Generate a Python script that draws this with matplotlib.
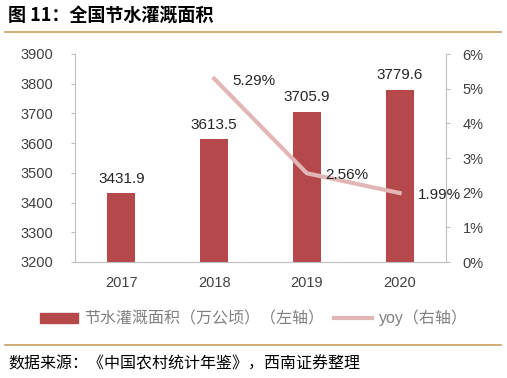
import matplotlib
matplotlib.use("Agg")
import matplotlib.pyplot as plt
from matplotlib.lines import Line2D
from matplotlib.patches import Patch

plt.rcParams['font.family'] = ['Liberation Sans', 'Noto Sans CJK SC', 'DejaVu Sans']

years = ['2017', '2018', '2019', '2020']
area = [3431.9, 3613.5, 3705.9, 3779.6]
yoy_years = ['2018', '2019', '2020']
yoy = [5.29, 2.56, 1.99]
left_ticks = [3200, 3300, 3400, 3500, 3600, 3700, 3800, 3900]
right_ticks = [0, 1, 2, 3, 4, 5, 6]

bar_color = '#B5484A'
line_color = '#E2B6B6'
text_color = '#404040'
axis_color = '#BFBFBF'
rule_color = '#C8A060'

W, H = 507, 378
fig = plt.figure(figsize=(W / 100, H / 100), dpi=100)

ax = fig.add_axes([75 / W, 1 - 262 / H, (446 - 75) / W, (262 - 54) / H])
x = list(range(len(years)))
ax.bar(x, [v - 3200 for v in area], bottom=3200, width=0.3, color=bar_color, zorder=2)
ax.set_ylim(3200, 3900)
ax.set_xlim(-0.5, 3.5)
ax.set_yticks(left_ticks)
ax.set_yticklabels([str(t) for t in left_ticks])
ax.set_xticks(x)
ax.set_xticklabels(years)
for i, v in enumerate(area):
    ax.text(i, v + 25, f'{v:.1f}', ha='center', va='bottom', fontsize=11, color='#262626')

for s in ['top', 'right']:
    ax.spines[s].set_visible(False)
for s in ['left', 'bottom']:
    ax.spines[s].set_color(axis_color)
ax.tick_params(axis='y', colors=axis_color, labelcolor=text_color, labelsize=10.5, length=3, pad=13)
ax.tick_params(axis='x', length=0, labelcolor=text_color, labelsize=10.5, pad=10)

ax2 = ax.twinx()
xi = [years.index(y) for y in yoy_years]
ax2.plot(xi, yoy, color=line_color, linewidth=3, zorder=3)
ax2.set_ylim(0, 6)
ax2.set_yticks(right_ticks)
ax2.set_yticklabels([f'{t}%' for t in right_ticks])
for s in ['top', 'left', 'bottom']:
    ax2.spines[s].set_visible(False)
ax2.spines['right'].set_color(axis_color)
ax2.tick_params(axis='y', colors=axis_color, labelcolor=text_color, labelsize=10.5, length=3, pad=9)
for xx, v in zip(xi, yoy):
    ax2.text(xx + 0.2, v - 0.06, f'{v:.2f}%', ha='left', va='center',
             fontsize=11, color='#262626')

# title and rules
fig.text(8 / W, 1 - 16 / H, '图 11：全国节水灌溉面积', fontsize=13, fontweight='bold',
         family=['Noto Sans CJK SC', 'DejaVu Sans'], va='center', ha='left', color='#000000')
fig.add_artist(Line2D([5 / W, 501 / W], [1 - 32 / H, 1 - 32 / H], color=rule_color, linewidth=1.2))
fig.add_artist(Line2D([5 / W, 501 / W], [1 - 345 / H, 1 - 345 / H], color=rule_color, linewidth=1.2))

handles = [Patch(color=bar_color), Line2D([], [], color=line_color, linewidth=3)]
labels = ['节水灌溉面积（万公顷）（左轴）', 'yoy（右轴）']
leg = fig.legend(handles, labels, loc='center', bbox_to_anchor=(0.5, 1 - 318 / H), ncol=2,
                 frameon=False, handlelength=2.4, handleheight=0.6,
                 columnspacing=0.6, handletextpad=0.4,
                 prop={'family': ['Liberation Sans', 'Noto Sans CJK SC'], 'size': 11.5})
for t in leg.get_texts():
    t.set_color('#808080')

fig.text(8 / W, 1 - 364 / H, '数据来源：《中国农村统计年鉴》，西南证券整理', fontsize=11.5,
         family=['Noto Sans CJK SC', 'DejaVu Sans'], style='italic', va='center', ha='left', color='#000000')

fig.savefig('out.png', dpi=100)
